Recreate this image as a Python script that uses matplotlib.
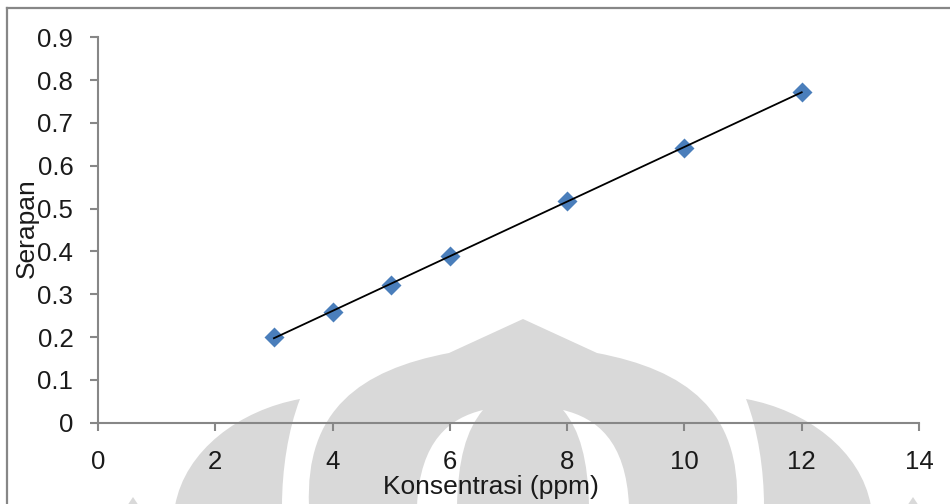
import numpy as np
import matplotlib.pyplot as plt
from matplotlib.path import Path
from matplotlib.patches import PathPatch
from matplotlib.lines import Line2D

plt.rcParams['font.family'] = ['Liberation Sans', 'DejaVu Sans']

# calibration data
konsentrasi = [3, 4, 5, 6, 8, 10, 12]
serapan = [0.201, 0.259, 0.322, 0.389, 0.518, 0.642, 0.773]

x_ticks = [0, 2, 4, 6, 8, 10, 12, 14]
y_ticks = [0, 0.1, 0.2, 0.3, 0.4, 0.5, 0.6, 0.7, 0.8, 0.9]
y_tick_labels = ['0', '0.1', '0.2', '0.3', '0.4', '0.5', '0.6', '0.7', '0.8', '0.9']

W, H = 950, 504
AXIS_GRAY = '#878787'
MARK_GRAY = '#d9d9d9'
TEXT = '#1a1a1a'

fig = plt.figure(figsize=(W / 100, H / 100), dpi=100)


def to_fig(points):
    # pixel coords (origin top-left) -> figure fraction
    return [(x / W, 1 - y / H) for x, y in points]


def mirror(points, axis_x=523):
    return [(2 * axis_x - x, y) for x, y in points]


def add_shape(points, codes, color):
    patch = PathPatch(Path(to_fig(points), codes), facecolor=color,
                      edgecolor='none', transform=fig.transFigure, zorder=-2)
    fig.add_artist(patch)


M, L, C, Z = Path.MOVETO, Path.LINETO, Path.CURVE4, Path.CLOSEPOLY

# background emblem
center = [(309, 506), (305, 410), (360, 370), (449, 353), (523, 319),
          (597, 353), (686, 370), (741, 410), (737, 506), (309, 506)]
center_codes = [M, C, C, C, L, L, C, C, C, Z]
add_shape(center, center_codes, MARK_GRAY)

hole = [(483, 410), (450, 418), (420, 440), (417, 506), (457, 506),
        (458, 460), (466, 430), (483, 410), (483, 410)]
hole_codes = [M, C, C, C, L, C, C, C, Z]
add_shape(hole, hole_codes, 'white')
add_shape(mirror(hole), hole_codes, 'white')

flame = [(300, 399), (240, 410), (185, 450), (175, 506), (282, 506),
         (282, 470), (288, 430), (300, 399), (300, 399)]
add_shape(flame, hole_codes, MARK_GRAY)
add_shape(mirror(flame), hole_codes, MARK_GRAY)

tip = [(133, 497), (127, 506), (139, 506), (133, 497)]
add_shape(tip, [M, L, L, Z], MARK_GRAY)
add_shape(mirror(tip), [M, L, L, Z], MARK_GRAY)

# outer frame (left and top edges)
fig.add_artist(Line2D([7 / W, 7 / W], [0, 1 - 8 / H], color=AXIS_GRAY,
                      lw=1.6, transform=fig.transFigure))
fig.add_artist(Line2D([7 / W, 1], [1 - 8 / H, 1 - 8 / H], color=AXIS_GRAY,
                      lw=1.6, transform=fig.transFigure))

ax = fig.add_axes([98 / W, 1 - 422.7 / H, 821 / W, 385.4 / H])
ax.set_facecolor('none')

ax.plot(konsentrasi, serapan, 'D', ms=10.5, color='#4A7EBB', mec='none', zorder=2)

slope, intercept = np.polyfit(konsentrasi, serapan, 1)
fit_x = np.array([min(konsentrasi), max(konsentrasi)])
ax.plot(fit_x, slope * fit_x + intercept, color='black', lw=1.3, zorder=3)

ax.set_xlim(0, 14)
ax.set_ylim(0, 0.9)
ax.set_xticks(x_ticks)
ax.set_yticks(y_ticks)
ax.set_yticklabels(y_tick_labels)

for side in ['top', 'right']:
    ax.spines[side].set_visible(False)
for side in ['left', 'bottom']:
    ax.spines[side].set_color(AXIS_GRAY)
    ax.spines[side].set_linewidth(1.5)

ax.tick_params(axis='both', direction='out', length=5.8, width=1.5,
               color=AXIS_GRAY, labelsize=18.5, labelcolor=TEXT)
ax.tick_params(axis='x', pad=14)
ax.tick_params(axis='y', pad=12)

fig.text(491 / W, 1 - 494 / H, 'Konsentrasi (ppm)', ha='center',
         va='baseline', fontsize=19, color=TEXT)
fig.text(27 / W, 1 - 228 / H, 'Serapan', rotation=90, ha='center',
         va='center', fontsize=19, color=TEXT)

fig.savefig('out.png', dpi=100)
